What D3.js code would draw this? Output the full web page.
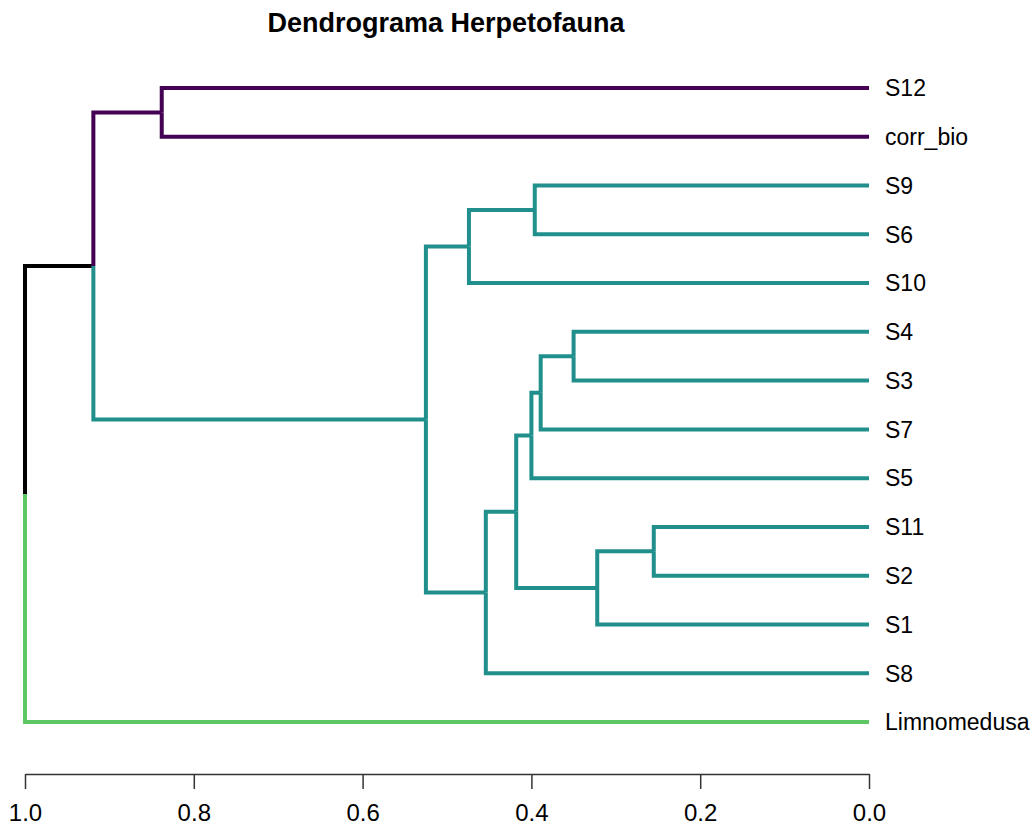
<!DOCTYPE html>
<html>
<head>
<meta charset="utf-8" />
<style>
	body { margin: 0; background: #fff; }
	.title { font-family: 'Liberation Sans', Arial, sans-serif; font-weight: bold; font-size: 27px; fill: #000; }
	.leaf { font-family: 'Liberation Sans', Arial, sans-serif; font-size: 23px; fill: #000; }
	.branch { fill: none; stroke-width: 4px; stroke-linejoin: miter; stroke-linecap: butt; }
	.axis path, .axis line { stroke: #333; stroke-width: 1.5px; }
	.axis text { font-family: 'Liberation Sans', Arial, sans-serif; font-size: 24px; fill: #000; }
</style>
</head>
<body>
<div id="chart"></div>
<script src="https://d3js.org/d3.v7.min.js"></script>
<script>

// leaves, top to bottom
var leaves = ["S12", "corr_bio", "S9", "S6", "S10", "S4", "S3", "S7", "S5", "S11", "S2", "S1", "S8", "Limnomedusa"];

// merges: numbers point to an earlier merge, strings are leaves (upper branch first)
var mergeA = ["S11", 0,    "S4", 2,    "S9", 3,    5, 6,    4,     8, "S12",      10, 11];
var mergeB = ["S2",  "S1", "S3", "S7", "S6", "S5", 1, "S8", "S10", 7, "corr_bio", 9,  "Limnomedusa"];
var mergeHeight = [0.255, 0.322, 0.350, 0.389, 0.396, 0.400, 0.418, 0.454, 0.474, 0.525, 0.838, 0.919, 1.0];

// groups of the cut
var groupPurple = ["S12", "corr_bio"];
var groupGreen = ["Limnomedusa"];
var groupColors = { purple: "#440154", teal: "#21908C", green: "#5DC863" };

var xTicks = [1.0, 0.8, 0.6, 0.4, 0.2, 0.0];

var width = 1036, height = 830;

var svg = d3.select("#chart").append("svg")
	.attr("width", width)
	.attr("height", height);

svg.append("text")
	.attr("class", "title")
	.attr("x", 446)
	.attr("y", 32)
	.attr("text-anchor", "middle")
	.text("Dendrograma Herpetofauna");

var x = d3.scaleLinear().domain([1, 0]).range([25, 869]);
var y = d3.scalePoint().domain(leaves).range([88, 722]);

//// build the tree from the merge list ////
function groupOf(name) {
	if (groupPurple.indexOf(name) >= 0) return "purple";
	if (groupGreen.indexOf(name) >= 0) return "green";
	return "teal";
}
var built = [];
function ref(r) {
	if (typeof r === "number") return built[r];
	return { name: r, height: 0 };
}
mergeHeight.forEach(function (h, i) {
	built.push({ height: h, children: [ref(mergeA[i]), ref(mergeB[i])] });
});
var root = d3.hierarchy(built[built.length - 1]);

root.eachAfter(function (d) {
	d.px = x(d.data.height);
	if (!d.children) {
		d.py = y(d.data.name);
		d.group = groupOf(d.data.name);
	} else {
		d.py = d3.mean(d.children, function (c) { return c.py; });
		var g = d.children[0].group;
		d.group = d.children.every(function (c) { return c.group === g; }) ? g : null;
	}
});

svg.append("g").selectAll("path")
	.data(root.links())
	.enter().append("path")
	.attr("class", "branch")
	.attr("stroke", function (l) { return l.target.group ? groupColors[l.target.group] : "#000"; })
	.attr("d", function (l) {
		return "M" + l.source.px + "," + l.source.py + "V" + l.target.py + "H" + l.target.px;
	});

svg.append("g").selectAll("text")
	.data(root.leaves())
	.enter().append("text")
	.attr("class", "leaf")
	.attr("x", 885)
	.attr("y", function (d) { return d.py; })
	.attr("dy", "0.36em")
	.text(function (d) { return d.data.name; });

// axis
svg.append("g")
	.attr("class", "axis")
	.attr("transform", "translate(0,774)")
	.call(d3.axisBottom(x)
		.tickValues(xTicks)
		.tickFormat(d3.format(".1f"))
		.tickSize(15)
		.tickSizeOuter(0)
		.tickPadding(15));

</script>
</body>
</html>
